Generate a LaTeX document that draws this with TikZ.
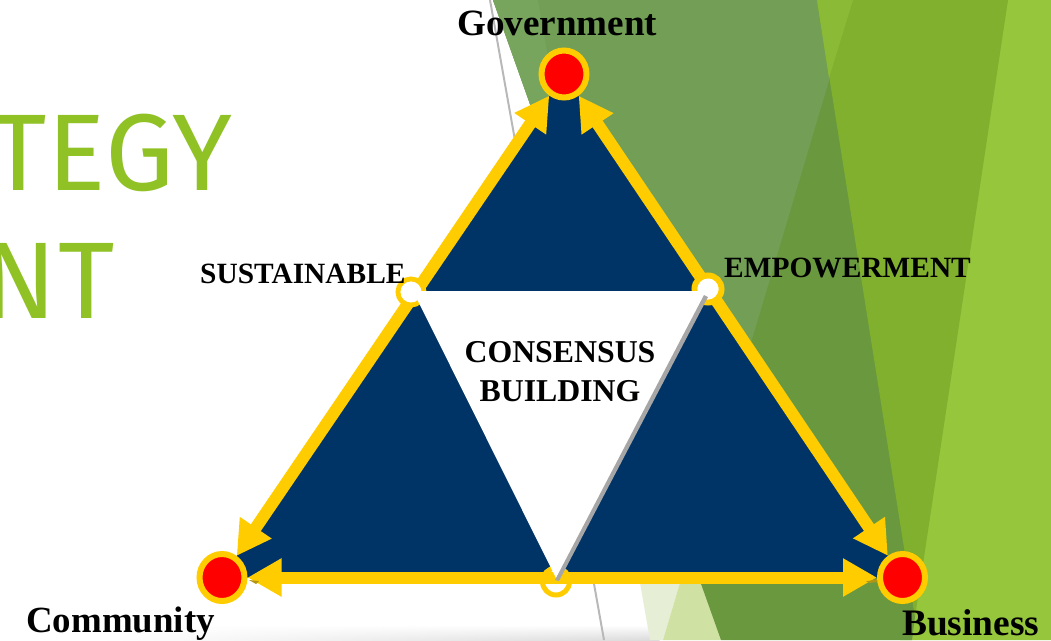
\documentclass[tikz,border=0pt]{standalone}
\usepackage{fontspec}
\setmainfont{Liberation Serif}
\newfontfamily\titlefont[LetterSpace=1]{Fira Sans}
\usetikzlibrary{arrows.meta,shapes.geometric,fadings}
\definecolor{yel}{HTML}{FFCC00}
\definecolor{navy}{HTML}{003366}
\definecolor{ttl}{HTML}{90C226}
\definecolor{gLight}{RGB}{150,198,60}
\definecolor{gMid}{RGB}{128,176,46}
\definecolor{gMidB}{RGB}{138,186,54}
\definecolor{gPaleA}{RGB}{230,239,213}
\definecolor{gPaleB}{RGB}{208,226,163}
\definecolor{gDark}{RGB}{106,152,63}
\definecolor{gOlive}{RGB}{114,159,85}
\definecolor{gOliveB}{RGB}{120,165,94}
\definecolor{shadowline}{RGB}{166,166,166}
\definecolor{sliver}{RGB}{176,150,20}
\tikzset{
  x=1pt,y=-1pt,
  hub/.style={ellipse,draw=yel,fill=red,line width=6pt,minimum width=45pt,minimum height=47pt,inner sep=0pt},
  hubanchor/.style={hub,fill=none,draw=none},
  ringnode/.style={circle,draw=yel,fill=white,line width=5pt,minimum size=26pt,inner sep=0pt},
  edgeline/.style={draw=yel,line width=12pt,{Triangle[length=34pt,width=36pt]}-{Triangle[length=34pt,width=36pt]}},
  lab/.style={font=\bfseries\fontsize{29.4}{32}\selectfont,inner sep=0pt,anchor=base west},
  bigl/.style={font=\bfseries\fontsize{37.1}{40}\selectfont,inner sep=0pt,anchor=base west},
  midl/.style={font=\bfseries\fontsize{31.8}{34}\selectfont,inner sep=0pt,anchor=base},
  ttlt/.style={font=\titlefont\fontsize{109}{109}\selectfont,text=ttl,inner sep=0pt,anchor=base east}
}
\begin{document}
\begin{tikzpicture}
\useasboundingbox (0,0) rectangle (1051,640);
\clip (0,0) rectangle (1051,640);
% background
\fill[white] (0,0) rectangle (1051,640);
\shade[top color=white,bottom color=black!14,path fading=west] (100,625) rectangle (660,640);
\fill[shadowline!80!white] (489,0) -- (491,0) -- (605,640) -- (603,640) -- cycle;
\fill[gPaleA] (538,0) -- (853,0) -- (663,640) -- (650,640) -- cycle;
\fill[gPaleB] (853,0) -- (663,640) -- (721,640) -- cycle;
\fill[gLight] (990,0) -- (1051,0) -- (1051,640) -- (900,640) -- cycle;
\fill[gDark] (493,0) -- (830,0) -- (915,617) -- (912,640) -- (721,640) -- cycle;
\fill[gOlive] (493,0) -- (853,0) -- (689,551) -- cycle;
\fill[gOliveB] (493,0) -- (538,0) -- (581,248) -- cycle;
\fill[gMid] (817,0) -- (1008,0) -- (915,617) -- cycle;
\fill[gMidB] (817,0) -- (853,0) -- (829,78) -- cycle;
\node[ttlt] (t1) at (233,190) {TEGY};
\node[ttlt] (t2) at (115,318.7) {NT};
% nodes
\node[hubanchor] (gov) at (564,74) {};
\node[hubanchor] (com) at (222,577.5) {};
\node[hubanchor] (bus) at (902.5,577.5) {};
\fill[navy] (gov.center) -- (com.center) -- (bus.center) -- cycle;
\node[ringnode] (sus) at (411,292) {};
\node[ringnode,minimum size=27pt,line width=6pt] (emp) at (708,289) {};
\node[ringnode,minimum size=27pt] (bot) at (556,581.5) {};
\draw[edgeline] (gov) -- (com);
\draw[edgeline] (gov) -- (bus);
\draw[edgeline] (com) -- (bus);
\fill[sliver] (249,580) -- (259,581) -- (256,584) -- cycle;
\fill[sliver] (866,581.5) -- (877,579) -- (877,582) -- (870,583) -- cycle;
\fill[white] (413,291) -- (708,291) -- (557,580) -- cycle;
\fill[white] (sus.center) circle (10.5);
\fill[white] (emp.center) circle (10.5);
\fill[shadowline] (704,295) -- (708,297) -- (559,581) -- (555,580) -- cycle;
\node[hub] (govr) at (gov) {};
\node[hub] (comr) at (com) {};
\node[hub] (busr) at (bus) {};
% labels
\node[bigl] (lg) at (457,35) {Government};
\node[bigl,font=\bfseries\fontsize{36.9}{40}\selectfont] (lc) at (26,632) {Community};
\node[bigl,font=\bfseries\fontsize{37.4}{40}\selectfont] (lb) at (902,635) {Business};
\node[lab] (ls) at (200,283) {SUSTAINABLE};
\node[lab] (le) at (724,277) {EMPOWERMENT};
\node[midl] (m1) at (560,362) {CONSENSUS};
\node[midl] (m2) at (560,401) {BUILDING};
\end{tikzpicture}
\end{document}
